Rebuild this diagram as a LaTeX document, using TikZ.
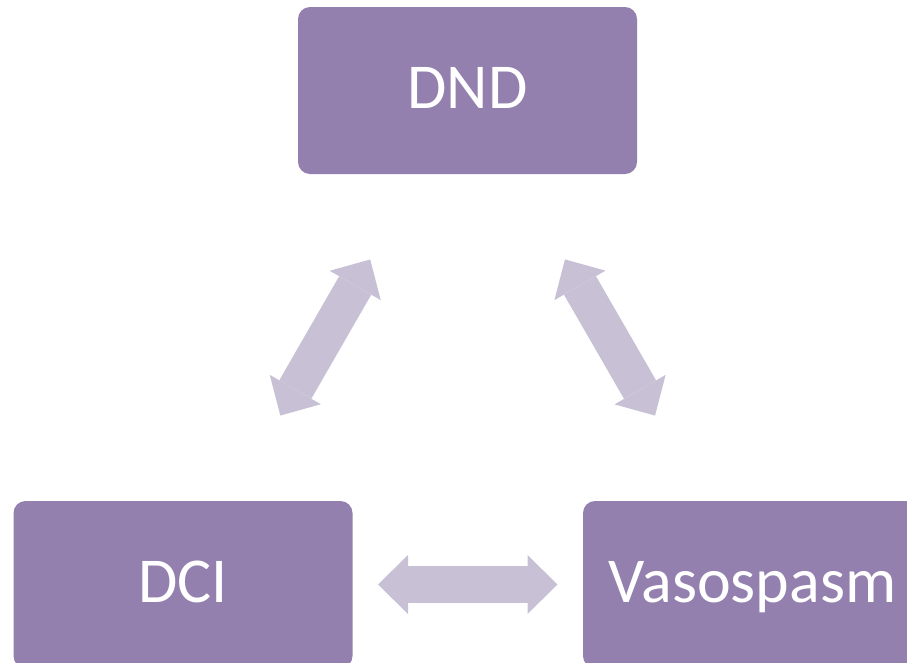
\documentclass[tikz,border=0pt]{standalone}
\usepackage{fontspec}
\setmainfont{Carlito}
\usetikzlibrary{positioning,arrows.meta}
\definecolor{boxfill}{HTML}{9380AE}
\definecolor{arrfill}{HTML}{C8C1D6}

\begin{document}
\begin{tikzpicture}[
  x=1pt, y=-1pt,
  font=\fontsize{64}{77}\selectfont,
  box/.style={rectangle, rounded corners=12pt, fill=boxfill, draw=none,
              minimum width=339pt, minimum height=167pt, inner sep=0pt,
              text=white, text height=41pt, text depth=6pt},
  dblarr/.style={draw=arrfill, line width=37pt,
                 {Triangle[length=30pt, width=59pt, line width=0pt]}-{Triangle[length=30pt, width=59pt, line width=0pt]},
                 shorten <=195pt, shorten >=195pt}
]
\useasboundingbox (0,0) rectangle (907,662);
\clip (0,0) rectangle (907,662);

% the three boxes
\node[box] (dnd)  at (467.5, 90.5) {DND};
\node[box] (dci)  at (183, 584.5)  {DCI};
\node[box] (vaso) at (752.5, 584.5) {Vasospasm};

% two-way arrows
\draw[dblarr] (dnd.center) -- (dci.center);
\draw[dblarr] (dnd.center) -- (vaso.center);
\draw[dblarr] (dci.center) -- (vaso.center);
\end{tikzpicture}
\end{document}
